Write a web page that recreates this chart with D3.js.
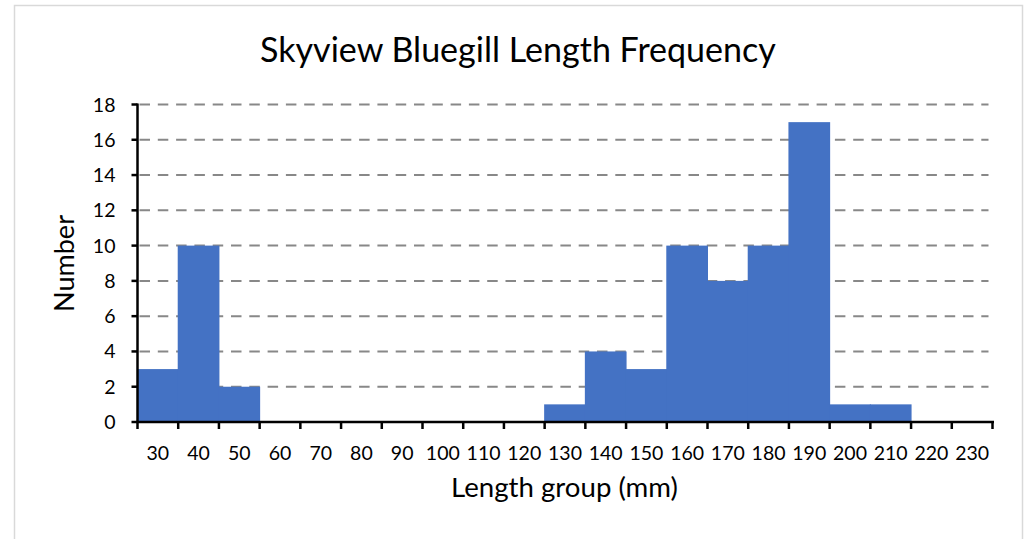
<!DOCTYPE html>
<html><head><meta charset="utf-8">
<script src="https://cdn.jsdelivr.net/npm/d3@7"></script>
<style>html,body{margin:0;padding:0;background:#fff;}svg{display:block;}</style>
</head><body>
<svg id="chart" width="1027" height="539"></svg>
<script>
const categories = ["30","40","50","60","70","80","90","100","110","120","130","140","150","160","170","180","190","200","210","220","230"];
const counts = [3,10,2,0,0,0,0,0,0,0,1,4,3,10,8,10,17,1,1,0,0];
const yTicks = [0,2,4,6,8,10,12,14,16,18];
const titleText = "Skyview Bluegill Length Frequency";
const xTitle = "Length group (mm)";
const yTitle = "Number";

const W = 1027, H = 539;
const FONT = "Lato, 'Open Sans', sans-serif";
const m = {left: 137.5, right: W - 992.5, top: 104.5, bottom: H - 422};
const svg = d3.select("#chart");

svg.append("rect").attr("x", 14.5).attr("y", 5.5).attr("width", 1008).attr("height", 560)
  .attr("fill", "#fff").attr("stroke", "#d9d9d9").attr("stroke-width", 1.5);

const x = d3.scaleBand().domain(categories).range([m.left, W - m.right]).padding(0);
const y = d3.scaleLinear().domain([0, 18]).range([H - m.bottom, m.top]);

function fit(sel, target) {
  const w = sel.node().getComputedTextLength();
  const fs = parseFloat(sel.attr("font-size"));
  sel.attr("font-size", fs * target / w);
}

// gridlines
svg.append("g").selectAll("line").data(yTicks.filter(d => d > 0)).join("line")
  .attr("x1", m.left + 2).attr("x2", W - m.right - 4)
  .attr("y1", d => y(d)).attr("y2", d => y(d))
  .attr("stroke", "#888").attr("stroke-width", 2).attr("stroke-dasharray", "10.5,7.8");

// bars (slight overlap to avoid seams between adjacent bars)
svg.append("g").selectAll("rect").data(categories).join("rect")
  .attr("x", d => x(d) - 0.5).attr("width", x.bandwidth() + 1)
  .attr("y", (d, i) => y(counts[i])).attr("height", (d, i) => y(0) - y(counts[i]))
  .attr("fill", "#4472C4").attr("stroke", "none");

// x axis
const xAxis = svg.append("g").attr("transform", `translate(0,${y(0)})`);
xAxis.append("line").attr("x1", m.left - 1).attr("x2", W - m.right + 1.5).attr("stroke", "#000").attr("stroke-width", 2.5);
const bounds = categories.map(c => x(c)).concat([x(categories[categories.length - 1]) + x.bandwidth()]);
xAxis.selectAll("line.tk").data(bounds).join("line").attr("class", "tk")
  .attr("x1", d => d).attr("x2", d => d).attr("y1", 0).attr("y2", 7)
  .attr("stroke", "#000").attr("stroke-width", 2.5);
const xl = xAxis.selectAll("text").data(categories).join("text")
  .attr("x", d => x(d) + x.bandwidth() / 2).attr("y", 38)
  .attr("text-anchor", "middle").attr("font-family", FONT).attr("font-size", 19).attr("fill", "#000")
  .text(d => d);
{
  const last = xl.filter(d => d === "230");
  const w = last.node().getComputedTextLength();
  xl.attr("font-size", 19 * 34 / w);
}

// y axis
const yAxis = svg.append("g").attr("transform", `translate(${m.left},0)`);
yAxis.append("line").attr("y1", y(0) + 1).attr("y2", y(18) - 1).attr("stroke", "#000").attr("stroke-width", 2.5);
yAxis.selectAll("line.tk").data(yTicks).join("line").attr("class", "tk")
  .attr("x1", -6).attr("x2", 0).attr("y1", d => y(d)).attr("y2", d => y(d))
  .attr("stroke", "#000").attr("stroke-width", 2.5);
yAxis.selectAll("text").data(yTicks).join("text")
  .attr("x", -22).attr("y", d => y(d)).attr("dy", "0.36em")
  .attr("text-anchor", "end").attr("font-family", FONT).attr("font-size", xl.attr("font-size")).attr("fill", "#000")
  .text(d => d);

// titles
const t = svg.append("text").attr("x", 518).attr("y", 62).attr("text-anchor", "middle")
  .attr("font-family", FONT).attr("font-size", 32).attr("fill", "#000").text(titleText);
fit(t, 516);
const xt = svg.append("text").attr("x", 564.5).attr("y", 497).attr("text-anchor", "middle")
  .attr("font-family", FONT).attr("font-size", 22).attr("fill", "#000").text(xTitle);
fit(xt, 227);
const yt = svg.append("text").attr("transform", "translate(74,263.5) rotate(-90)").attr("text-anchor", "middle")
  .attr("font-family", FONT).attr("font-size", 22).attr("fill", "#000").text(yTitle);
fit(yt, 97);
</script>
</body></html>
